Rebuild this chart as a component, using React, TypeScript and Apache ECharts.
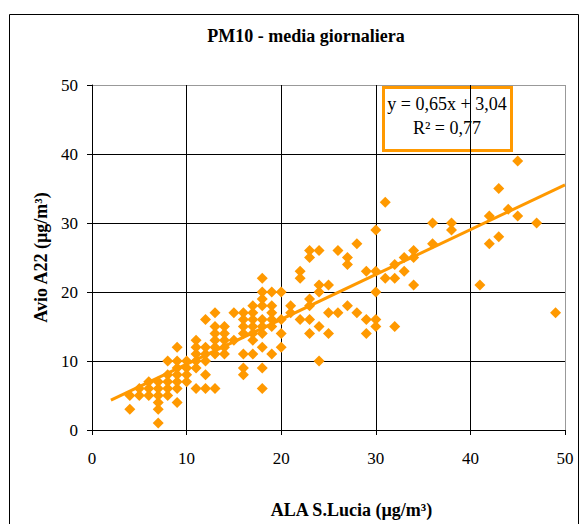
import React, { useEffect, useRef } from "react";
import * as echarts from "echarts";

// ALA S.Lucia (x) vs Avio A22 (y), daily PM10 values
const alaValues: number[] = [
  4, 4, 5, 5, 6, 6, 6, 7, 7, 7, 7, 7, 7, 8, 8, 8, 8, 8,
  9, 9, 9, 9, 9, 9, 9, 10, 10, 10, 10, 11, 11, 11, 11, 11, 11,
  12, 12, 12, 12, 12, 12, 13, 13, 13, 13, 13, 13, 13, 14, 14, 14, 14, 14,
  15, 15, 16, 16, 16, 16, 16, 16, 16, 17, 17, 17, 17, 17, 17, 17,
  18, 18, 18, 18, 18, 18, 18, 18, 18, 18, 19, 19, 19, 19, 19, 19,
  20, 20, 20, 20, 21, 21, 22, 22, 22, 23, 23, 23, 23, 23, 23,
  24, 24, 24, 24, 24, 25, 25, 25, 26, 26, 27, 27, 27, 28, 28,
  29, 29, 29, 30, 30, 30, 30, 30, 31, 31, 32, 32, 32, 33, 33,
  34, 34, 34, 36, 36, 38, 38, 41, 42, 42, 43, 43, 44, 45, 45, 47, 49,
];
const avioValues: number[] = [
  3, 5, 5, 6, 5, 6, 7, 1, 3, 4, 5, 6, 7, 5, 6, 7, 8, 10,
  4, 6, 7, 8, 9, 10, 12, 7, 8, 9, 10, 6, 9, 10, 11, 12, 13,
  6, 8, 10, 11, 12, 16, 6, 11, 12, 13, 14, 15, 17, 11, 12, 13, 14, 15,
  13, 17, 8, 9, 11, 14, 15, 16, 17, 11, 13, 14, 15, 16, 17, 18,
  6, 9, 12, 14, 15, 16, 18, 19, 20, 22, 11, 15, 16, 17, 18, 20,
  12, 14, 16, 20, 17, 18, 16, 22, 23, 14, 16, 18, 19, 25, 26,
  10, 15, 20, 21, 26, 14, 17, 21, 17, 26, 18, 24, 25, 17, 27,
  14, 16, 23, 15, 16, 20, 23, 29, 22, 33, 15, 22, 24, 23, 25,
  21, 25, 26, 27, 30, 29, 30, 21, 27, 31, 28, 35, 32, 31, 39, 30, 17,
];

// Linear trend shown in the chart: y = 0,65x + 3,04 ; R² = 0,77
const trendSlope = 0.65;
const trendIntercept = 3.04;
const trendRange: number[] = [2, 50];

const xTicks: number[] = [0, 10, 20, 30, 40, 50];
const yTicks: number[] = [0, 10, 20, 30, 40, 50];

const titleText = "PM10 - media giornaliera";
const xName = "ALA S.Lucia (µg/m³)";
const yName = "Avio A22 (µg/m³)";
const equationText = "y = 0,65x + 3,04";
const r2Text = "R² = 0,77";

const ORANGE = "#FF9900";
const FONT = "'Liberation Serif', 'Times New Roman', serif";

export default function App() {
  const ref = useRef<HTMLDivElement>(null);

  useEffect(() => {
    if (!ref.current) return;
    const chart = echarts.init(ref.current, undefined, { renderer: "svg" });
    const points = alaValues.map((x, i) => [x, avioValues[i]]);
    const trend = trendRange.map((x) => [x, trendSlope * x + trendIntercept]);
    const splitColors = ["#000", "#000", "#000", "#000", "#000", "#999"];

    chart.setOption({
      animation: false,
      backgroundColor: "#ffffff",
      textStyle: { fontFamily: FONT },
      title: {
        text: titleText,
        left: 306,
        top: 27,
        padding: 0,
        textAlign: "center",
        textStyle: { fontFamily: FONT, fontSize: 18, fontWeight: "bold", color: "#000" },
      },
      grid: { left: 92, top: 85, width: 473, height: 350, containLabel: false },
      xAxis: {
        type: "value",
        min: xTicks[0],
        max: xTicks[xTicks.length - 1],
        interval: 10,
        name: xName,
        nameLocation: "middle",
        nameGap: 71,
        nameTextStyle: {
          fontFamily: FONT,
          fontSize: 18,
          fontWeight: "bold",
          color: "#000",
          padding: [0, 0, 0, 46],
        },
        axisLine: { show: true, lineStyle: { color: "#000", width: 1 } },
        axisTick: { show: true, length: 5, lineStyle: { color: "#000" } },
        axisLabel: { fontFamily: FONT, fontSize: 17, color: "#000", margin: 20 },
        splitLine: { show: true, lineStyle: { color: splitColors, width: 1 } },
      },
      yAxis: {
        type: "value",
        min: yTicks[0],
        max: yTicks[yTicks.length - 1],
        interval: 10,
        name: yName,
        nameLocation: "middle",
        nameGap: 31,
        nameRotate: 90,
        nameTextStyle: { fontFamily: FONT, fontSize: 18, fontWeight: "bold", color: "#000" },
        axisLine: { show: true, lineStyle: { color: "#000", width: 1 } },
        axisTick: { show: true, length: 5, lineStyle: { color: "#000" } },
        axisLabel: { fontFamily: FONT, fontSize: 17, color: "#000", margin: 14 },
        splitLine: { show: true, lineStyle: { color: splitColors, width: 1 } },
      },
      series: [
        {
          type: "scatter",
          data: points,
          symbol: "diamond",
          symbolSize: [11, 11],
          itemStyle: { color: ORANGE, opacity: 1 },
          z: 3,
        },
        {
          type: "line",
          data: trend,
          symbol: "none",
          lineStyle: { color: ORANGE, width: 3 },
          z: 4,
        },
      ],
      graphic: [
        {
          type: "rect",
          shape: { x: 9.5, y: 14.5, width: 569, height: 530 },
          style: { fill: "none", stroke: "#000", lineWidth: 1 },
          silent: true,
          z: 10,
        },
        {
          type: "group",
          left: 382,
          top: 86,
          z: 20,
          children: [
            {
              type: "rect",
              shape: { x: 1.5, y: 1.5, width: 128, height: 63 },
              style: { fill: "#fff", stroke: ORANGE, lineWidth: 3 },
            },
            {
              type: "text",
              x: 65,
              y: 18,
              style: {
                text: equationText,
                fontFamily: FONT,
                fontSize: 18,
                fill: "#000",
                align: "center",
                verticalAlign: "middle",
              },
            },
            {
              type: "text",
              x: 65,
              y: 42,
              style: {
                text: r2Text,
                fontFamily: FONT,
                fontSize: 18,
                fill: "#000",
                align: "center",
                verticalAlign: "middle",
              },
            },
          ],
        },
      ],
    });

    return () => chart.dispose();
  }, []);

  return (
    <div
      ref={ref}
      style={{ position: "fixed", left: 0, top: 0, width: 587, height: 524 }}
    />
  );
}
